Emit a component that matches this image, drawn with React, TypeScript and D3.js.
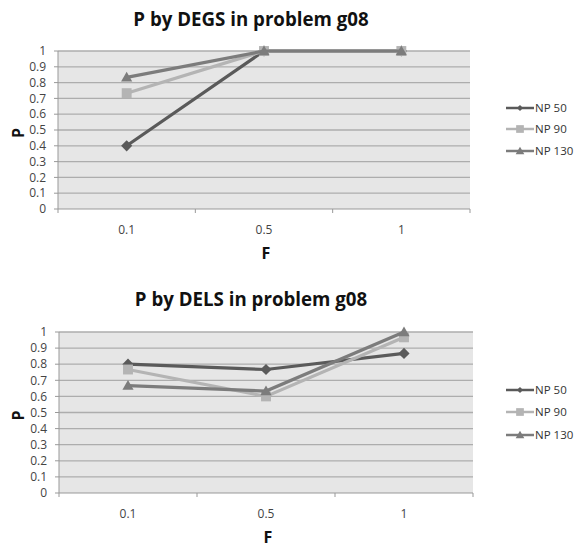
import React from "react";
import * as d3 from "d3";

const categories = ["0.1", "0.5", "1"];
const seriesNames = ["NP 50", "NP 90", "NP 130"];
const degsValues = [
  [0.4, 1, 1],
  [0.733, 1, 1],
  [0.833, 1, 1],
];
const delsValues = [
  [0.8, 0.767, 0.867],
  [0.767, 0.6, 0.967],
  [0.667, 0.633, 1.0],
];
const yTicks = [0, 0.1, 0.2, 0.3, 0.4, 0.5, 0.6, 0.7, 0.8, 0.9, 1];
const seriesColors = ["#5a5a5a", "#b4b4b4", "#7c7c7c"];
const markerTypes = ["diamond", "square", "triangle"];

const FONT = "'Open Sans', 'Liberation Sans', sans-serif";

function Marker({ type, x, y, color, size }: { type: string; x: number; y: number; color: string; size: number }) {
  if (type === "diamond") {
    const s = size * 0.62;
    return <path d={`M${x},${y - s}L${x + s},${y}L${x},${y + s}L${x - s},${y}Z`} fill={color} />;
  }
  if (type === "square") {
    const s = size * 0.55;
    return <rect x={x - s} y={y - s} width={2 * s} height={2 * s} fill={color} />;
  }
  const s = size * 0.62;
  return <path d={`M${x},${y - s}L${x + s},${y + s * 0.75}L${x - s},${y + s * 0.75}Z`} fill={color} />;
}

function LineChart({
  title,
  values,
  top,
  left,
  right,
  plotTop,
  plotBottom,
  legendY,
}: {
  title: string;
  values: number[][];
  top: number;
  left: number;
  right: number;
  plotTop: number;
  plotBottom: number;
  legendY: number[];
}) {
  const x = d3.scaleBand<string>().domain(categories).range([left, right]);
  const y = d3.scaleLinear().domain([0, 1]).range([plotBottom, plotTop]);
  const cx = (i: number) => x(categories[i])! + x.bandwidth() / 2;
  const line = d3
    .line<number>()
    .x((_, i) => cx(i))
    .y((d) => y(d));
  const boundaries = [...categories.map((c) => x(c)!), right];
  return (
    <g transform={`translate(0,${top})`}>
      <text x={251} y={26} textAnchor="middle" fontFamily={FONT} fontWeight="bold" fontSize={18.7} fill="#111">
        {title}
      </text>
      <rect x={left} y={plotTop} width={right - left} height={plotBottom - plotTop} fill="#e6e6e6" />
      {yTicks.map((t) => (
        <g key={t}>
          {t > 0 && <line x1={left} x2={right} y1={y(t)} y2={y(t)} stroke="#adadad" strokeWidth={1.3} />}
          <line x1={left - 4} x2={left} y1={y(t)} y2={y(t)} stroke="#999" />
          <text x={left - 12} y={y(t)} dy="0.35em" textAnchor="end" fontFamily={FONT} fontSize={12} fill="#444">
            {d3.format("")(t)}
          </text>
        </g>
      ))}
      <line x1={left} x2={left} y1={plotTop} y2={plotBottom} stroke="#999" />
      <line x1={left} x2={right} y1={plotBottom} y2={plotBottom} stroke="#999" />
      {boundaries.map((b, i) => (
        <line key={i} x1={b} x2={b} y1={plotBottom} y2={plotBottom + 4} stroke="#999" />
      ))}
      {categories.map((c, i) => (
        <text key={c} x={cx(i)} y={plotBottom + 21} dy="0.35em" textAnchor="middle" fontFamily={FONT} fontSize={12} fill="#444">
          {c}
        </text>
      ))}
      <text x={(left + right) / 2 + 2} y={plotBottom + 50} textAnchor="middle" fontFamily={FONT} fontWeight="bold" fontSize={16} fill="#111">
        F
      </text>
      <text
        transform={`translate(${24},${(plotTop + plotBottom) / 2 + 3}) rotate(-90)`}
        textAnchor="middle"
        fontFamily={FONT}
        fontWeight="bold"
        fontSize={16}
        fill="#111"
      >
        P
      </text>
      {values.map((vals, si) => (
        <g key={si}>
          <path d={line(vals) ?? ""} fill="none" stroke={seriesColors[si]} strokeWidth={3.2} />
          {vals.map((v, i) => (
            <Marker key={i} type={markerTypes[si]} x={cx(i)} y={y(v)} color={seriesColors[si]} size={9} />
          ))}
        </g>
      ))}
      {seriesNames.map((name, si) => (
        <g key={name}>
          <line x1={506} x2={534} y1={legendY[si]} y2={legendY[si]} stroke={seriesColors[si]} strokeWidth={2.5} />
          <Marker type={markerTypes[si]} x={520} y={legendY[si]} color={seriesColors[si]} size={si === 0 ? 5 : 7} />
          <text x={535} y={legendY[si]} dy="0.35em" fontFamily={FONT} fontSize={11.5} fill="#333">
            {name}
          </text>
        </g>
      ))}
    </g>
  );
}

export default function App() {
  return (
    <svg width={585} height={554} style={{ position: "absolute", left: 0, top: 0, background: "#fff" }}>
      <rect width={585} height={554} fill="#fff" />
      <LineChart
        title="P by DEGS in problem g08"
        values={degsValues}
        top={0}
        left={58}
        right={470}
        plotTop={51}
        plotBottom={209}
        legendY={[108, 129, 151]}
      />
      <LineChart
        title="P by DELS in problem g08"
        values={delsValues}
        top={280}
        left={59}
        right={473}
        plotTop={52}
        plotBottom={213}
        legendY={[110, 132, 155]}
      />
    </svg>
  );
}
